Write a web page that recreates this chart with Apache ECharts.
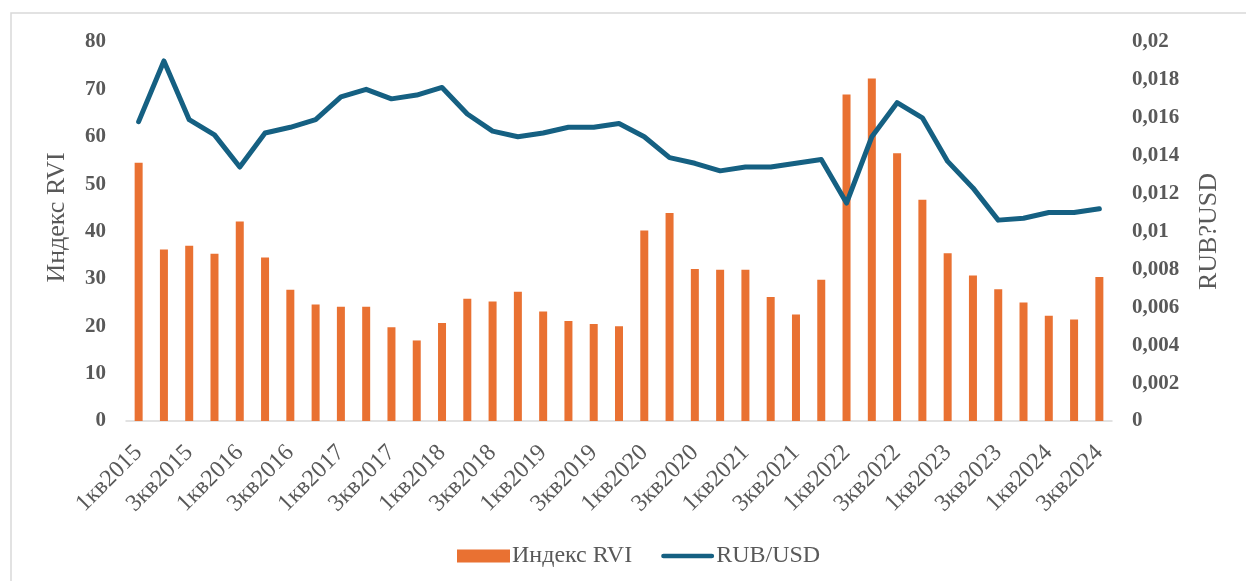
<!DOCTYPE html>
<html>
<head>
<meta charset="utf-8">
<script src="https://cdn.jsdelivr.net/npm/echarts@6/dist/echarts.min.js"></script>
<style>
html, body { margin: 0; padding: 0; background: #fff; }
#chart { width: 1246px; height: 581px; }
</style>
</head>
<body>
<div id="chart"></div>
<script>
// кварталы
const quarters = [
  "1кв2015","2кв2015","3кв2015","4кв2015",
  "1кв2016","2кв2016","3кв2016","4кв2016",
  "1кв2017","2кв2017","3кв2017","4кв2017",
  "1кв2018","2кв2018","3кв2018","4кв2018",
  "1кв2019","2кв2019","3кв2019","4кв2019",
  "1кв2020","2кв2020","3кв2020","4кв2020",
  "1кв2021","2кв2021","3кв2021","4кв2021",
  "1кв2022","2кв2022","3кв2022","4кв2022",
  "1кв2023","2кв2023","3кв2023","4кв2023",
  "1кв2024","2кв2024","3кв2024"
]
// Индекс RVI
const rvi = [
  54.5, 36.2, 37.0, 35.3,
  42.1, 34.5, 27.7, 24.6,
  24.1, 24.1, 19.8, 17.0,
  20.7, 25.8, 25.2, 27.3,
  23.1, 21.1, 20.5, 20.0,
  40.2, 43.9, 32.1, 31.9,
  31.9, 26.2, 22.5, 29.8,
  68.9, 72.3, 56.5, 46.7,
  35.4, 30.7, 27.8, 25.0,
  22.2, 21.4, 30.4
]
// RUB/USD
const rubUsd = [
  0.0158, 0.0190, 0.0159, 0.0151,
  0.0134, 0.0152, 0.0155, 0.0159,
  0.0171, 0.0175, 0.0170, 0.0172,
  0.0176, 0.0162, 0.0153, 0.0150,
  0.0152, 0.0155, 0.0155, 0.0157,
  0.0150, 0.0139, 0.0136, 0.0132,
  0.0134, 0.0134, 0.0136, 0.0138,
  0.0115, 0.0150, 0.0168, 0.0160,
  0.0137, 0.0123, 0.0106, 0.0107,
  0.0110, 0.0110, 0.0112
]

const serif = "Liberation Serif"
const grey = "#595959"

let myChart = echarts.init(document.getElementById("chart"))
myChart.setOption({
  animation: false,
  textStyle: { fontFamily: serif },
  graphic: [
    {
      type: "rect",
      shape: { x: 11, y: 13, width: 1400, height: 800 },
      style: { fill: "none", stroke: "#d9d9d9", lineWidth: 1.5 },
      silent: true
    }
  ],
  grid: {
    left: 126,
    right: 134,
    top: 42,
    bottom: 160
  },
  legend: {
    top: 539,
    left: 452,
    itemWidth: 53,
    itemHeight: 13,
    itemGap: 29,
    textStyle: { fontFamily: serif, fontSize: 24, color: grey, padding: [0, 0, 0, -3] },
    data: [
      { name: "Индекс RVI", icon: "rect" },
      { name: "RUB/USD", icon: "path://M2.5,0 L53.5,0 A2.5,2.5 0 0 1 53.5,5 L2.5,5 A2.5,2.5 0 0 1 2.5,0 Z" }
    ]
  },
  xAxis: {
    type: "category",
    data: quarters,
    axisLine: { lineStyle: { color: "#d9d9d9", width: 1.5 } },
    axisTick: { show: false },
    axisLabel: {
      interval: 1,
      rotate: 45,
      margin: 28,
      fontFamily: serif,
      fontSize: 24,
      color: grey
    }
  },
  yAxis: [
    {
      type: "value",
      min: 0,
      max: 80,
      interval: 10,
      name: "Индекс RVI",
      nameLocation: "middle",
      nameGap: 56,
      nameTextStyle: { fontFamily: serif, fontSize: 26, color: grey, padding: [0, 0, 0, 28] },
      splitLine: { show: false },
      axisLine: { show: false },
      axisTick: { show: false },
      axisLabel: { fontFamily: serif, fontSize: 21, fontWeight: "bold", color: grey, margin: 20 }
    },
    {
      type: "value",
      min: 0,
      max: 0.02,
      interval: 0.002,
      name: "RUB?USD",
      nameLocation: "middle",
      nameGap: 84,
      nameTextStyle: { fontFamily: serif, fontSize: 26, color: grey },
      splitLine: { show: false },
      axisLine: { show: false },
      axisTick: { show: false },
      axisLabel: {
        fontFamily: serif,
        fontSize: 21,
        fontWeight: "bold",
        color: grey,
        margin: 20,
        formatter: function (v) {
          return String(parseFloat(v.toFixed(4))).replace(".", ",")
        }
      }
    }
  ],
  series: [
    {
      name: "Индекс RVI",
      type: "bar",
      data: rvi,
      barWidth: 8,
      itemStyle: { color: "#E97132" }
    },
    {
      name: "RUB/USD",
      type: "line",
      yAxisIndex: 1,
      data: rubUsd,
      symbol: "none",
      lineStyle: { color: "#156082", width: 5, join: "round", cap: "round" },
      itemStyle: { color: "#156082" }
    }
  ]
})
</script>
</body>
</html>
